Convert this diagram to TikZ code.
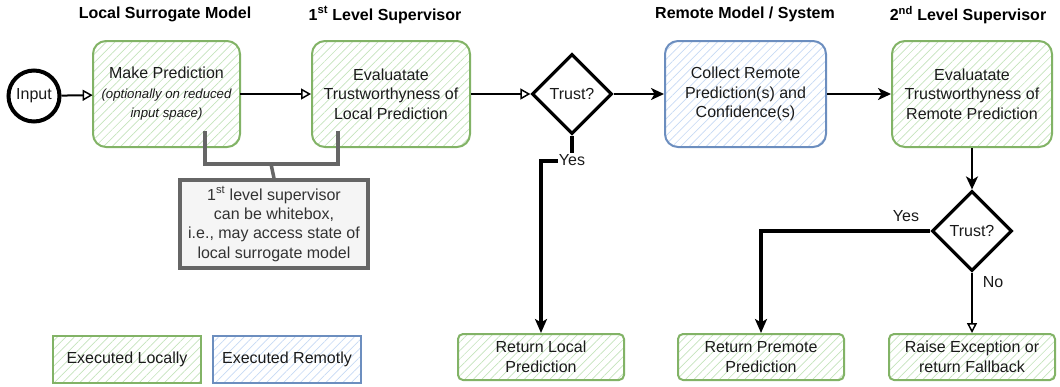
\documentclass[tikz,border=0pt]{standalone}
\usepackage{fontspec}
\setmainfont{Liberation Sans}
\usetikzlibrary{arrows.meta,patterns.meta,shapes.geometric}
\definecolor{gborder}{HTML}{82B366}
\definecolor{ghatch}{HTML}{C4E3BC}
\definecolor{bborder}{HTML}{6C8EBF}
\definecolor{bhatch}{HTML}{C6D9F4}
\definecolor{notefill}{HTML}{F5F5F5}
\definecolor{noteborder}{HTML}{666666}
\definecolor{notetext}{HTML}{333333}
\definecolor{txt}{HTML}{1A1A1A}
\tikzset{
  boxtext/.style={font=\fontsize{16}{19.5}\selectfont, text=txt, align=center},
  greenbox/.style={boxtext, draw=gborder, line width=2pt, rounded corners=13pt,
    pattern={Lines[angle=45,distance=6pt,line width=0.7pt]}, pattern color=ghatch},
  bluebox/.style={boxtext, draw=bborder, line width=2pt, rounded corners=13pt,
    pattern={Lines[angle=45,distance=6pt,line width=0.7pt]}, pattern color=bhatch},
  legendgreen/.style={greenbox, rounded corners=0pt},
  legendblue/.style={bluebox, rounded corners=0pt},
  retbox/.style={greenbox, rounded corners=5pt},
  decision/.style={diamond, draw=black, line width=3.2pt, boxtext, minimum width=80pt, minimum height=80pt, inner sep=0pt, fill=white},
  title/.style={font=\bfseries\fontsize{16}{19}\selectfont, text=black},
  openarrow/.style={draw=black, line width=2pt, -{Triangle[open, length=10pt, width=11pt, line width=1.5pt]}},
  fillarrow/.style={draw=black, line width=2pt, -{Stealth[length=13pt, width=12pt, inset=3.5pt]}},
  yesarrow/.style={draw=black, line width=3.3pt, -{Stealth[length=14pt, width=12pt, inset=3.5pt]}},
  noarrow/.style={draw=black, line width=2.2pt, -{Triangle[open, length=10pt, width=10pt, line width=1.5pt]}},
  bracket/.style={draw=noteborder, line width=3.5pt},
  lbl/.style={font=\fontsize{16}{19}\selectfont, text=txt, fill=white, inner sep=1pt},
}
\begin{document}
\begin{tikzpicture}[x=1pt,y=-1pt]
\useasboundingbox (0,0) rectangle (1060,386);
% titles
\node[title] (t1) at (165,14) {Local Surrogate Model};
\node[title] (t2) at (385,15) {1\textsuperscript{st} Level Supervisor};
\node[title] (t3) at (745,14) {Remote Model / System};
\node[title] (t4) at (968,15) {2\textsuperscript{nd} Level Supervisor};
% input
\node[circle, draw=black, line width=4pt, minimum size=51pt, inner sep=0pt, boxtext] (in) at (34,96) {Input};
% main boxes
\node[greenbox, minimum width=147pt, minimum height=106pt] (mp) at (166.5,94) {Make Prediction\\{\itshape\fontsize{13.2}{19.5}\selectfont (optionally on reduced}\\{\itshape\fontsize{13.2}{19.5}\selectfont input space)}};
\node[greenbox, minimum width=158pt, minimum height=106pt] (ev1) at (391,94) {Evaluatate\\Trustworthyness of\\Local Prediction};
\node[decision] (d1) at (572,94) {Trust?};
\node[bluebox, minimum width=161pt, minimum height=106pt] (col) at (745.5,94) {Collect Remote\\Prediction(s) and\\Confidence(s)};
\node[greenbox, minimum width=160pt, minimum height=106pt] (ev2) at (972,94) {Evaluatate\\Trustworthyness of\\Remote Prediction};
\node[decision] (d2) at (972,231) {Trust?};
% return boxes
\node[retbox, minimum width=166pt, minimum height=46pt] (r1) at (541,357) {Return Local\\Prediction};
\node[retbox, minimum width=166pt, minimum height=46pt] (r2) at (761,357) {Return Premote\\Prediction};
\node[retbox, minimum width=166pt, minimum height=46pt] (r3) at (972,357) {Raise Exception or\\return Fallback};
% legend
\node[legendgreen, minimum width=148pt, minimum height=47pt] (lg) at (127,359.5) {Executed Locally};
\node[legendblue, minimum width=148pt, minimum height=47pt] (lb) at (287,359.5) {Executed Remotly};
% note
\node[draw=noteborder, fill=notefill, line width=3.5pt, minimum width=188pt, minimum height=88pt, text=notetext, align=center, font=\fontsize{16}{19.3}\selectfont] (note) at (274,224) {1\textsuperscript{st} level supervisor\\can be whitebox,\\i.e., may access state of\\local surrogate model};
% bracket
\coordinate (bl) at (205,131);
\coordinate (br) at (338,131);
\coordinate (bm) at (271,164);
\draw[bracket] (bl) -- (205,164) -- (338,164) -- (br);
\draw[bracket] (bm) -- (note.north);
% connectors
\draw[openarrow] (in) -- (mp);
\draw[openarrow] (mp) -- (ev1);
\draw[openarrow] (ev1) -- (d1);
\draw[fillarrow] (d1) -- (col);
\draw[fillarrow] (col) -- (ev2);
\draw[fillarrow] (ev2) -- (d2);
\coordinate (y1) at (572,161);
\draw[yesarrow] (d1.south) -- (y1) -| (r1.north);
\node[lbl] (yes1) at (572,160) {Yes};
\draw[yesarrow] (d2.west) -| (r2.north);
\node[lbl, fill=none] (yes2) at (906,216) {Yes};
\draw[noarrow] (d2.south) -- (r3.north);
\node[lbl, fill=none] (no2) at (993,282) {No};
\end{tikzpicture}
\end{document}
